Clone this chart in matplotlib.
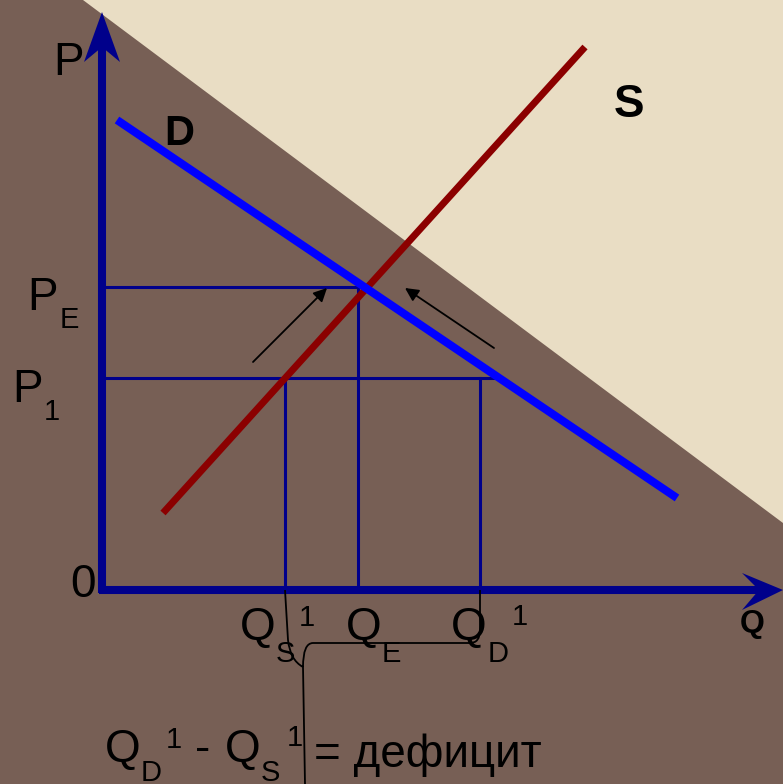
import matplotlib.pyplot as plt
from matplotlib.patches import Polygon, PathPatch
from matplotlib.path import Path

# demand / supply lines (Q, P) with origin at the axis corner
d_q = [15, 575]
d_p = [470, 92]
s_q = [61, 483]
s_p = [77, 543]

# price levels and quantities
p_e = 303
p_1 = 212
q_s1 = 183
q_e = 256
q_d1 = 378
p1_line_end = 393

# small arrows showing the move to equilibrium
arr_start = [(151, 228), (392, 242)]
arr_end = [(225, 302), (303, 302)]

# axis extents
q_max = 681
p_max = 578

W, H = 783, 784
brown = '#775F55'
beige = '#E9DDC4'
navy = '#00008B'

fig = plt.figure(figsize=(W / 100, H / 100), dpi=100)
fig.patch.set_facecolor(brown)
ax = fig.add_axes([0, 0, 1, 1])
ax.set_xlim(-102, W - 102)
ax.set_ylim(590 - H, 590)
ax.axis('off')

# beige triangle in the top right
ax.add_patch(Polygon([(-19, 590), (681, 590), (681, 67)], closed=True,
                     facecolor=beige, edgecolor='none', zorder=0))

# helper lines
ax.plot([0, q_e], [p_e, p_e], color=navy, lw=2.2, zorder=2)
ax.plot([0, p1_line_end], [p_1, p_1], color=navy, lw=2.2, zorder=2)
for q, top in [(q_s1, p_1), (q_e, p_e), (q_d1, p_1)]:
    ax.plot([q, q], [0, top], color=navy, lw=2.2, zorder=2)

# supply and demand
ax.plot(s_q, s_p, color='#8B0000', lw=5.0, solid_capstyle='butt', zorder=3)
ax.plot(d_q, d_p, color='#0000FF', lw=5.8, solid_capstyle='butt', zorder=4)

for a, b in zip(arr_start, arr_end):
    ax.annotate('', xy=b, xytext=a,
                arrowprops=dict(arrowstyle='-|>', color='black', lw=1.3,
                                mutation_scale=20, shrinkA=0, shrinkB=0))

# axes with notched arrowheads
ax.plot([0, 0], [-3, p_max - 33], color=navy, lw=5.8, solid_capstyle='butt', zorder=5)
ax.plot([-3, q_max - 21], [0, 0], color=navy, lw=5.8, solid_capstyle='butt', zorder=5)
ax.add_patch(Polygon([(0, p_max), (-18, p_max - 50), (0, p_max - 35), (18, p_max - 50)],
                     closed=True, facecolor=navy, edgecolor='none', zorder=6))
ax.add_patch(Polygon([(q_max, 0), (q_max - 41, 17), (q_max - 24, 0), (q_max - 41, -20)],
                     closed=True, facecolor=navy, edgecolor='none', zorder=6))

# brace under the quantity axis
verts = [(q_s1, 0), (q_s1 + 3, -50), (q_s1 + 5, -70), (q_s1 + 18, -77), (q_s1 + 20, -194),
         (q_s1 + 18, -77), (q_s1 + 18, -53), (q_s1 + 28, -53), (q_d1 - 10, -53),
         (q_d1, -53), (q_d1, -40), (q_d1, 0)]
codes = [Path.MOVETO, Path.LINETO, Path.CURVE3, Path.CURVE3, Path.LINETO,
         Path.MOVETO, Path.CURVE3, Path.CURVE3, Path.LINETO,
         Path.CURVE3, Path.CURVE3, Path.LINETO]
ax.add_patch(PathPatch(Path(verts, codes), facecolor='none', edgecolor='black',
                       lw=1.3, zorder=7))

font = 'Liberation Sans'


def lbl(x, y, s, size, weight='normal'):
    fig.text(x / W, 1 - y / H, s, fontsize=size, fontweight=weight, family=font,
             ha='left', va='baseline', color='black')


big, small = 33, 21
lbl(53, 75, 'P', big)
lbl(164, 145, 'D', 30, 'bold')
lbl(614, 117, 'S', 33, 'bold')
lbl(740, 632, 'Q', 23, 'bold')
lbl(27, 310, 'P', big)
lbl(60, 328, 'E', small)
lbl(12, 402, 'P', big)
lbl(44, 420, '1', small)
lbl(70, 597, '0', big)

lbl(240, 640, 'Q', big)
lbl(276, 662, 'S', small)
lbl(299, 626, '1', small)
lbl(346, 640, 'Q', big)
lbl(382, 662, 'E', small)
lbl(451, 640, 'Q', big)
lbl(488, 662, 'D', small)
lbl(512, 625, '1', small)

lbl(105, 762, 'Q', big)
lbl(141, 781, 'D', small)
lbl(166, 748, '1', small)
lbl(195, 762, '-', big)
lbl(225, 762, 'Q', big)
lbl(261, 781, 'S', small)
lbl(287, 746, '1', small)
lbl(314, 767, '= дефицит', big)

fig.savefig('out.png', dpi=100, facecolor=fig.get_facecolor())
